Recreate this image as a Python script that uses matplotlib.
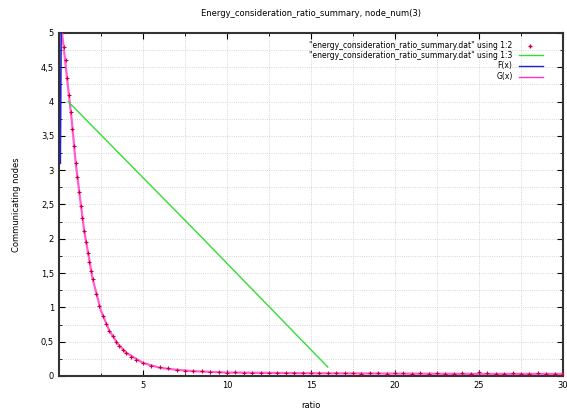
import matplotlib.pyplot as plt
from matplotlib.ticker import MultipleLocator, FixedLocator, FuncFormatter

# measured points (using 1:2)
ratio = [0.3, 0.4, 0.5, 0.6, 0.7, 0.8, 0.9, 1.0, 1.1, 1.2, 1.3, 1.4, 1.5, 1.6,
         1.7, 1.8, 1.9, 2.0, 2.2, 2.4, 2.6, 2.8, 3.0, 3.2, 3.4, 3.6, 3.8, 4.0,
         4.3, 4.6, 5.0, 5.5, 6.0, 6.5, 7.0, 7.5, 8.0, 8.5, 9.0, 9.5, 10.0,
         10.5, 11.0, 11.5, 12.0, 12.5, 13.0, 13.5, 14.0, 14.5, 15.0, 15.5,
         16.0, 16.5, 17.0, 17.5, 18.0, 18.5, 19.0, 19.5, 20.0, 20.5, 21.0,
         21.5, 22.0, 22.5, 23.0, 23.5, 24.0, 24.5, 25.0, 25.5, 26.0, 26.5,
         27.0, 27.5, 28.0, 28.5, 29.0, 29.5, 30.0]
nodes = [4.8, 4.6, 4.35, 4.1, 3.85, 3.6, 3.35, 3.1, 2.9, 2.68, 2.48, 2.3, 2.12,
         1.95, 1.8, 1.66, 1.53, 1.41, 1.2, 1.02, 0.88, 0.76, 0.66, 0.58, 0.5,
         0.44, 0.38, 0.34, 0.28, 0.23, 0.19, 0.15, 0.13, 0.11, 0.09, 0.08,
         0.07, 0.07, 0.06, 0.06, 0.05, 0.06, 0.05, 0.05, 0.04, 0.05, 0.05,
         0.04, 0.05, 0.04, 0.05, 0.04, 0.04, 0.05, 0.04, 0.04, 0.03, 0.04,
         0.04, 0.03, 0.04, 0.05, 0.03, 0.04, 0.03, 0.04, 0.03, 0.03, 0.04,
         0.03, 0.06, 0.04, 0.03, 0.03, 0.04, 0.03, 0.03, 0.04, 0.03, 0.03,
         0.03]

# using 1:3
lin_x = [0.55, 8.3, 16.0]
lin_y = [4.0, 2.07, 0.13]

# F(x) and G(x)
f_x = [0.13, 0.08]
f_y = [5.0, 3.1]
g_x = [0.18, 0.3, 0.5, 0.75, 1.0, 1.25, 1.5, 2.0, 2.5, 3.0, 3.5, 4.0, 5.0,
       6.0, 7.0, 8.0, 10.0, 15.0, 20.0, 25.0, 30.0]
g_y = [5.0, 4.75, 4.3, 3.75, 3.1, 2.6, 2.12, 1.42, 0.95, 0.66, 0.47, 0.34,
       0.19, 0.12, 0.09, 0.07, 0.05, 0.04, 0.035, 0.03, 0.03]

labels = ['"energy_consideration_ratio_summary.dat" using 1:2',
          '"energy_consideration_ratio_summary.dat" using 1:3',
          'F(x)', 'G(x)']

RED = '#cc0033'
GREEN = '#33dd33'
BLUE = '#2222cc'
MAGENTA = '#ff33cc'

plt.rcParams['font.family'] = 'DejaVu Sans'
plt.rcParams['font.size'] = 6

fig = plt.figure(figsize=(5.67, 4.13), dpi=100)
ax = fig.add_axes([0.104, 0.0896, 0.889, 0.8305])

ax.plot(g_x, g_y, color=MAGENTA, linewidth=1.6, alpha=0.8, zorder=3)
ax.plot(ratio, nodes, linestyle='none', marker='+', markersize=3,
        color=RED, markeredgewidth=0.8, zorder=4)
ax.plot(lin_x, lin_y, color=GREEN, linewidth=1.0, zorder=3)
ax.plot(f_x, f_y, color=BLUE, linewidth=1.2, zorder=3)

ax.set_xlim(0, 30)
ax.set_ylim(0, 5)

ax.xaxis.set_major_locator(FixedLocator([5, 10, 15, 20, 25, 30]))
ax.xaxis.set_minor_locator(MultipleLocator(2.5))
ax.yaxis.set_major_locator(MultipleLocator(0.5))
ax.yaxis.set_minor_locator(MultipleLocator(0.25))
ax.yaxis.set_major_formatter(
    FuncFormatter(lambda v, p: ('%g' % v).replace('.', ',')))
ax.tick_params(which='both', direction='in', top=True, right=True,
               labelsize=6)
ax.tick_params(which='major', length=4)
ax.tick_params(which='minor', length=2)

ax.grid(True, which='both', color='#c8c8c8', linestyle=':', linewidth=0.6)
for s in ax.spines.values():
    s.set_linewidth(1.5)
    s.set_color('#333333')

ax.set_title('Energy_consideration_ratio_summary, node_num(3)', fontsize=6,
             pad=12)
ax.set_xlabel('ratio', fontsize=6, labelpad=8)
ax.set_ylabel('Communicating nodes', fontsize=6, labelpad=14)

# legend, gnuplot style: right-aligned text, sample on the right
rows = [0.963, 0.935, 0.905, 0.873]
for lab, y in zip(labels, rows):
    ax.text(0.9, y, lab, transform=ax.transAxes, ha='right', va='center',
            fontsize=5.5, zorder=6)
ax.plot([0.935], [rows[0]], transform=ax.transAxes, marker='+',
        color=RED, markersize=3, linestyle='none', clip_on=False)
for y, c in zip(rows[1:], [GREEN, BLUE, MAGENTA]):
    ax.plot([0.913, 0.96], [y, y], transform=ax.transAxes,
            color=c, linewidth=1.0)

fig.savefig('out.png', dpi=100)
